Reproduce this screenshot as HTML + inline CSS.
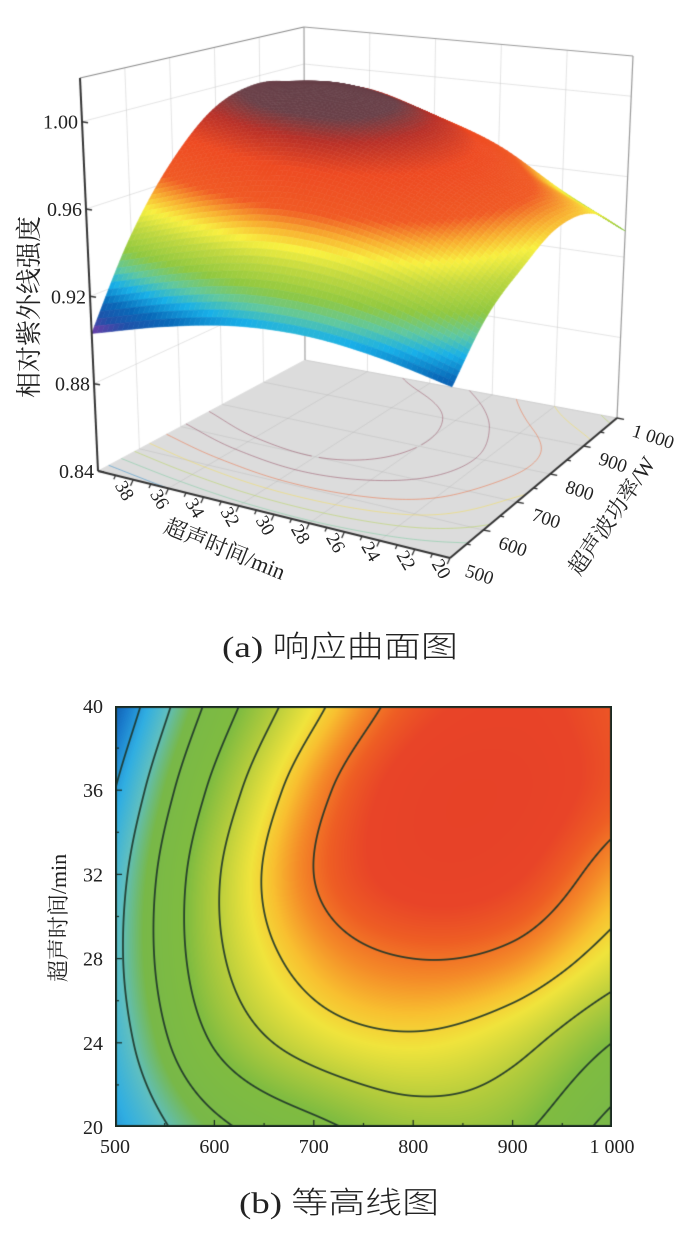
<!DOCTYPE html>
<html><head><meta charset="utf-8">
<style>
html,body{margin:0;padding:0;background:#fff;}
#wrap{position:relative;width:681px;height:1244px;overflow:hidden;background:#fff;}
canvas,svg{position:absolute;left:0;top:0;}
</style></head>
<body>
<div id="wrap">
<canvas id="c3d" width="681" height="600"></canvas>
<canvas id="ccont" width="497" height="421" style="left:115px;top:706px"></canvas>
<svg id="ov" width="681" height="1244" viewBox="0 0 681 1244">
  <text x="340" y="657" text-anchor="middle" font-family="'Liberation Serif','Noto Sans CJK SC',sans-serif" font-size="30" font-weight="300" textLength="236" lengthAdjust="spacingAndGlyphs" fill="#222">(a) 响应曲面图</text>
  <text x="339" y="1213" text-anchor="middle" font-family="'Liberation Serif','Noto Sans CJK SC',sans-serif" font-size="30" font-weight="300" textLength="200" lengthAdjust="spacingAndGlyphs" fill="#222">(b) 等高线图</text>
  <text transform="translate(38,307) rotate(-90)" text-anchor="middle" font-family="'Liberation Serif','Noto Serif CJK SC',serif" font-size="26" fill="#222">相对紫外线强度</text>
  <text transform="translate(222,556) rotate(22)" text-anchor="middle" font-family="'Liberation Serif','Noto Serif CJK SC',serif" font-size="22" fill="#222">超声时间/min</text>
  <text transform="translate(618,520) rotate(-56)" text-anchor="middle" font-family="'Liberation Serif','Noto Serif CJK SC',serif" font-size="22" fill="#222">超声波功率/W</text>
  <text transform="translate(66,918) rotate(-90)" text-anchor="middle" font-family="'Liberation Serif','Noto Serif CJK SC',serif" font-size="22" fill="#222">超声时间/min</text>
  <g id="labels"></g>
</svg>
</div>
<script>
// ---- data ----
const powerValues = [500, 600, 700, 800, 900, 1000];
const timeValues = [20, 24, 28, 32, 36, 40];
const resp_t20 = [0.913, 0.934, 0.946, 0.955, 0.952, 0.933];
const resp_t24 = [0.919, 0.950, 0.966, 0.971, 0.965, 0.949];
const resp_t28 = [0.922, 0.958, 0.978, 0.985, 0.982, 0.968];
const resp_t32 = [0.920, 0.959, 0.985, 0.997, 0.995, 0.980];
const resp_t36 = [0.913, 0.952, 0.981, 0.998, 1.000, 0.990];
const resp_t40 = [0.903, 0.941, 0.970, 0.990, 0.996, 0.990];
const zTickValues = [0.84, 0.88, 0.92, 0.96, 1.00];
const zTickLabels = ["0.84", "0.88", "0.92", "0.96", "1.00"];
const timeTickValues = [38, 36, 34, 32, 30, 28, 26, 24, 22, 20];
const powerTickValues = [500, 600, 700, 800, 900, 1000];
const powerTickLabels = ["500", "600", "700", "800", "900", "1 000"];
const contourYTicks = [20, 24, 28, 32, 36, 40];
const contourLevels = [0.901, 0.913, 0.925, 0.937, 0.949, 0.961, 0.973, 0.985];

const grid = [resp_t20, resp_t24, resp_t28, resp_t32, resp_t36, resp_t40];

function gv(i, j) {
  const ni = grid.length, nj = grid[0].length;
  if (i < 0) return 2 * gv(0, j) - gv(1, j);
  if (i >= ni) return 2 * gv(ni - 1, j) - gv(ni - 2, j);
  if (j < 0) return 2 * grid[i][0] - grid[i][1];
  if (j >= nj) return 2 * grid[i][nj - 1] - grid[i][nj - 2];
  return grid[i][j];
}
function cr(p0, p1, p2, p3, s) {
  return 0.5 * ((2 * p1) + (-p0 + p2) * s + (2 * p0 - 5 * p1 + 4 * p2 - p3) * s * s + (-p0 + 3 * p1 - 3 * p2 + p3) * s * s * s);
}
function resp(P, t) {
  const gx = (P - powerValues[0]) / (powerValues[1] - powerValues[0]);
  const gy = (t - timeValues[0]) / (timeValues[1] - timeValues[0]);
  let j = Math.min(Math.max(Math.floor(gx), 0), powerValues.length - 2);
  let i = Math.min(Math.max(Math.floor(gy), 0), timeValues.length - 2);
  const sx = gx - j, sy = gy - i;
  const r = [];
  for (let k = -1; k <= 2; k++) {
    r.push(cr(gv(i + k, j - 1), gv(i + k, j), gv(i + k, j + 1), gv(i + k, j + 2), sx));
  }
  return cr(r[0], r[1], r[2], r[3], sy);
}
function hex(h) { return [parseInt(h.substr(1, 2), 16), parseInt(h.substr(3, 2), 16), parseInt(h.substr(5, 2), 16)]; }
function makeMap(stops) {
  const s = stops.map(a => [a[0], hex(a[1])]);
  return function (v) {
    if (v <= s[0][0]) return s[0][1];
    for (let k = 1; k < s.length; k++) {
      if (v <= s[k][0]) {
        const f = (v - s[k - 1][0]) / (s[k][0] - s[k - 1][0]);
        const a = s[k - 1][1], b = s[k][1];
        return [a[0] + (b[0] - a[0]) * f, a[1] + (b[1] - a[1]) * f, a[2] + (b[2] - a[2]) * f];
      }
    }
    return s[s.length - 1][1];
  };
}
const cmapContour = makeMap([[0.900, '#0a4e9e'], [0.908, '#1a7ccc'], [0.916, '#30aee2'], [0.924, '#5ebfc2'], [0.933, '#78b848'], [0.950, '#80bc40'], [0.960, '#b4cc3c'], [0.970, '#f0e43c'], [0.976, '#f8c030'], [0.982, '#f48a28'], [0.988, '#ee5e24'], [0.994, '#e84428'], [1.02, '#e43c26']]);
const cmap3d = makeMap([[0.903, '#7a3aa8'], [0.909, '#2050a8'], [0.915, '#0868b8'], [0.922, '#18b0e8'], [0.928, '#60c8a0'], [0.935, '#90c840'], [0.944, '#c0d840'], [0.951, '#f8f040'], [0.957, '#f8b030'], [0.964, '#f05a24'], [0.978, '#ee4a22'], [0.988, '#b83028'], [0.995, '#6a4048'], [1.02, '#5a4048']]);
function rgb(c, a) { return 'rgba(' + Math.round(c[0]) + ',' + Math.round(c[1]) + ',' + Math.round(c[2]) + ',' + (a === undefined ? 1 : a) + ')'; }

// ---- 3D projection ----
const base = [[98, 471], [450, 558], [617, 418], [305, 360]];
const vert = [[-18, -393], [5, -422], [16, -362], [-1, -333]];
const Z0 = 0.84, Z1 = 1.02;
function proj(P, t, z) {
  const up = (P - 500) / 500, ut = (40 - t) / 20;
  const w = [(1 - up) * (1 - ut), (1 - up) * ut, up * ut, up * (1 - ut)];
  let bx = 0, by = 0, ox = 0, oy = 0;
  for (let k = 0; k < 4; k++) { bx += w[k] * base[k][0]; by += w[k] * base[k][1]; ox += w[k] * vert[k][0]; oy += w[k] * vert[k][1]; }
  const k = (z - Z0) / (Z1 - Z0);
  return [bx + k * ox, by + k * oy];
}

const c3 = document.getElementById('c3d').getContext('2d');
function line(ctx, a, b, col, w) { ctx.strokeStyle = col; ctx.lineWidth = w; ctx.beginPath(); ctx.moveTo(a[0], a[1]); ctx.lineTo(b[0], b[1]); ctx.stroke(); }

const gridCol = 'rgba(190,190,190,0.7)';
zTickValues.forEach(z => {
  line(c3, proj(500, 40, z), proj(1000, 40, z), gridCol, 0.6);
  line(c3, proj(1000, 40, z), proj(1000, 20, z), gridCol, 0.6);
});
powerTickValues.forEach(P => line(c3, proj(P, 40, Z0), proj(P, 40, Z1), gridCol, 0.6));
[36, 32, 28, 24].forEach(t => line(c3, proj(1000, t, Z0), proj(1000, t, Z1), gridCol, 0.6));
line(c3, proj(500, 40, Z1), proj(1000, 40, Z1), '#8a8a8a', 1.2);
line(c3, proj(1000, 40, Z1), proj(1000, 20, Z1), '#9a9a9a', 1.2);
line(c3, proj(1000, 40, Z0), proj(1000, 40, Z1), '#9a9a9a', 1.0);
line(c3, proj(1000, 20, Z0), proj(1000, 20, Z1), '#9a9a9a', 1.2);

c3.fillStyle = '#dcdcdc';
c3.beginPath();
[[500, 40], [500, 20], [1000, 20], [1000, 40]].forEach((p, k) => { const q = proj(p[0], p[1], Z0); k ? c3.lineTo(q[0], q[1]) : c3.moveTo(q[0], q[1]); });
c3.closePath(); c3.fill();
powerTickValues.forEach(P => line(c3, proj(P, 40, Z0), proj(P, 20, Z0), 'rgba(170,170,170,0.5)', 0.6));
[36, 32, 28, 24].forEach(t => line(c3, proj(500, t, Z0), proj(1000, t, Z0), 'rgba(170,170,170,0.5)', 0.6));
(function () {
  const N = 100;
  const vals = [];
  for (let i = 0; i <= N; i++) { vals.push([]); for (let j = 0; j <= N; j++) vals[i].push(resp(500 + 500 * j / N, 20 + 20 * i / N)); }
  contourLevels.forEach(L => {
    c3.strokeStyle = L > 0.97 ? 'rgba(150,80,100,0.6)' : rgb(cmap3d(L + 0.004), 0.5); c3.lineWidth = 0.9;
    c3.beginPath();
    for (let i = 0; i < N; i++) for (let j = 0; j < N; j++) {
      const pts = [];
      const corners = [[i, j], [i, j + 1], [i + 1, j + 1], [i + 1, j]];
      for (let e = 0; e < 4; e++) {
        const a = corners[e], b = corners[(e + 1) % 4];
        const va = vals[a[0]][a[1]], vb = vals[b[0]][b[1]];
        if ((va - L) * (vb - L) < 0) {
          const f = (L - va) / (vb - va);
          const ii = a[0] + (b[0] - a[0]) * f, jj = a[1] + (b[1] - a[1]) * f;
          pts.push(proj(500 + 500 * jj / N, 20 + 20 * ii / N, Z0));
        }
      }
      if (pts.length >= 2) { c3.moveTo(pts[0][0], pts[0][1]); c3.lineTo(pts[1][0], pts[1][1]); }
    }
    c3.stroke();
  });
})();

(function () {
  const N = 70, cells = [];
  const Pv = [], Tv = [];
  for (let k = 0; k <= N; k++) { Pv.push(500 + 500 * k / N); Tv.push(20 + 20 * k / N); }
  const Z = [];
  for (let i = 0; i <= N; i++) { Z.push([]); for (let j = 0; j <= N; j++) Z[i].push(resp(Pv[j], Tv[i])); }
  for (let i = 0; i < N; i++) for (let j = 0; j < N; j++) {
    const cP = (Pv[j] + Pv[j + 1]) / 2, cT = (Tv[i] + Tv[i + 1]) / 2;
    cells.push([proj(cP, cT, Z0)[1], i, j]);
  }
  cells.sort((a, b) => a[0] - b[0]);
  cells.forEach(c => {
    const i = c[1], j = c[2];
    const q = [proj(Pv[j], Tv[i], Z[i][j]), proj(Pv[j + 1], Tv[i], Z[i][j + 1]), proj(Pv[j + 1], Tv[i + 1], Z[i + 1][j + 1]), proj(Pv[j], Tv[i + 1], Z[i + 1][j])];
    const zc = (Z[i][j] + Z[i][j + 1] + Z[i + 1][j + 1] + Z[i + 1][j]) / 4;
    const col = rgb(cmap3d(zc));
    c3.fillStyle = col; c3.strokeStyle = col; c3.lineWidth = 0.6;
    c3.beginPath(); c3.moveTo(q[0][0], q[0][1]);
    for (let k = 1; k < 4; k++) c3.lineTo(q[k][0], q[k][1]);
    c3.closePath(); c3.fill(); c3.stroke();
  });
})();

line(c3, proj(500, 40, Z0), proj(500, 40, Z1), '#333', 2);
line(c3, proj(500, 40, Z0), proj(500, 20, Z0), '#333', 2);
line(c3, proj(500, 20, Z0), proj(1000, 20, Z0), '#333', 2);
zTickValues.forEach(z => { const a = proj(500, 40, z); line(c3, a, [a[0] + 6, a[1] + 1], '#333', 1.5); });
for (let t = 39; t >= 20; t--) { const a = proj(500, t, Z0); const L = (t % 2 === 0) ? 6 : 4; line(c3, a, [a[0] - L * 0.45, a[1] + L], '#333', 1.3); }
for (let P = 550; P <= 1000; P += 50) { const a = proj(P, 20, Z0); const L = (P % 100 === 0) ? 7 : 4; line(c3, a, [a[0] + L, a[1] + L * 0.2], '#333', 1.3); }

// ---- contour plot ----
(function () {
  const cv = document.getElementById('ccont'), ctx = cv.getContext('2d');
  const W = cv.width, H = cv.height;
  const F = new Float32Array((W + 2) * (H + 2));
  for (let y = -1; y <= H; y++) for (let x = -1; x <= W; x++) {
    F[(y + 1) * (W + 2) + (x + 1)] = resp(500 + (x + 0.5) / W * 500, 40 - (y + 0.5) / H * 20);
  }
  const img = ctx.createImageData(W, H);
  for (let y = 0; y < H; y++) for (let x = 0; x < W; x++) {
    const idx = (y + 1) * (W + 2) + (x + 1);
    const v = F[idx];
    let c = cmapContour(v);
    const gx = (F[idx + 1] - F[idx - 1]) / 2, gy = (F[idx + W + 2] - F[idx - W - 2]) / 2;
    const g = Math.sqrt(gx * gx + gy * gy) + 1e-9;
    let m = 0;
    contourLevels.forEach(L => { const d = Math.abs(v - L) / g; if (d < 1.4) m = Math.max(m, Math.min(1, 1.4 - d)); });
    const dk = [28, 52, 40];
    c = [c[0] * (1 - m * 0.9) + dk[0] * m * 0.9, c[1] * (1 - m * 0.9) + dk[1] * m * 0.9, c[2] * (1 - m * 0.9) + dk[2] * m * 0.9];
    const o = (y * W + x) * 4;
    img.data[o] = c[0]; img.data[o + 1] = c[1]; img.data[o + 2] = c[2]; img.data[o + 3] = 255;
  }
  ctx.putImageData(img, 0, 0);
  ctx.strokeStyle = '#1a2a22'; ctx.lineWidth = 2; ctx.strokeRect(1, 1, W - 2, H - 2);
  ctx.lineWidth = 1.2;
  for (let P = 550; P < 1000; P += 50) { const x = (P - 500) / 500 * W; const L = P % 100 === 0 ? 7 : 4; ctx.beginPath(); ctx.moveTo(x, H); ctx.lineTo(x, H - L); ctx.stroke(); }
  for (let t = 22; t < 40; t += 2) { const y = (40 - t) / 20 * H; const L = t % 4 === 0 ? 7 : 4; ctx.beginPath(); ctx.moveTo(0, y); ctx.lineTo(L, y); ctx.stroke(); }
})();

// ---- labels ----
const NS = 'http://www.w3.org/2000/svg';
const lg = document.getElementById('labels');
function addText(x, y, str, anchor, rot, name, size) {
  const el = document.createElementNS(NS, 'text');
  el.setAttribute('transform', 'translate(' + x + ',' + y + ') rotate(' + rot + ')');
  el.setAttribute('text-anchor', anchor);
  el.setAttribute('font-family', "'Liberation Serif', serif");
  el.setAttribute('font-size', size);
  el.setAttribute('fill', '#222');
  el.textContent = str;
  
  
  lg.appendChild(el);
}
zTickValues.forEach((z, k) => { const a = proj(500, 40, z); addText(a[0] - 4, a[1] + 7, zTickLabels[k], 'end', 0, 'z-tick-label', 20); });
timeTickValues.forEach(t => { const a = proj(500, t, Z0); addText(a[0] - 14, a[1] + 14, String(t), 'middle', 60, 'time-tick-label-3d', 19); });
powerTickValues.forEach((P, k) => { const a = proj(P, 20, Z0); addText(a[0] + 14, a[1] + 18, powerTickLabels[k], 'start', 18, 'power-tick-label-3d', 19); });
contourYTicks.forEach(t => { const y = 706 + (40 - t) / 20 * 421; addText(103, y + 7, String(t), 'end', 0, 'contour-y-tick-label', 20); });
powerTickValues.forEach((P, k) => { const x = 115 + (P - 500) / 500 * 497; addText(x, 1153, powerTickLabels[k], 'middle', 0, 'contour-x-tick-label', 20); });
</script>
</body></html>
